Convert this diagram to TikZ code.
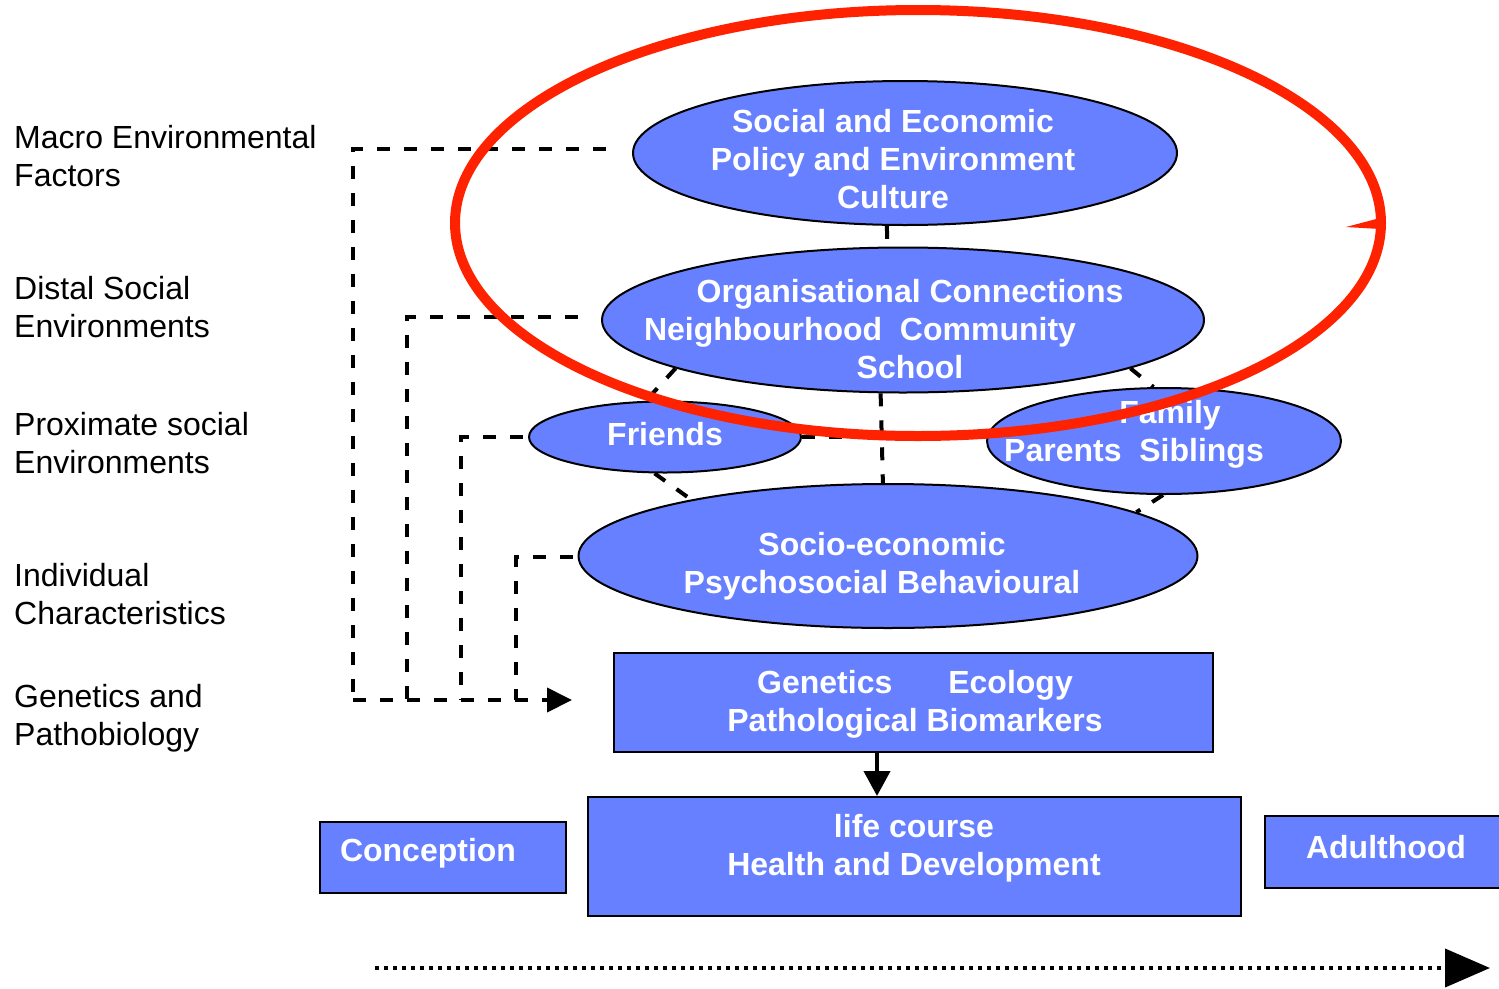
\documentclass[tikz,border=0pt]{standalone}
\usepackage{fontspec}
\setmainfont{Liberation Sans}
\usetikzlibrary{arrows.meta,shapes.geometric}
\definecolor{boxblue}{HTML}{6680FF}
\definecolor{ringred}{HTML}{FF2200}
\begin{document}
\begin{tikzpicture}[x=1pt,y=-1pt,
  txt/.style={font=\fontsize{32}{38}\selectfont, inner sep=0pt, align=left},
  wtxt/.style={font=\bfseries\fontsize{32}{38}\selectfont, text=white, inner sep=0pt, align=center},
  oval/.style={ellipse, draw=black, line width=2pt, fill=boxblue, inner sep=0pt},
  blk/.style={rectangle, draw=black, line width=2pt, fill=boxblue, inner sep=0pt},
  dashline/.style={line width=4pt, dash pattern=on 13pt off 14pt},
  dotline/.style={line width=4pt, dash pattern=on 4pt off 5pt},
]
\useasboundingbox (0,0) rectangle (1499,988);

% left labels
\node[txt, anchor=west] (lmacro) at (14,156) {Macro Environmental\\Factors};
\node[txt, anchor=west] (ldistal) at (14,307) {Distal Social\\Environments};
\node[txt, anchor=west] (lprox) at (14,443) {Proximate social\\Environments};
\node[txt, anchor=west] (lindiv) at (14,594) {Individual\\Characteristics};
\node[txt, anchor=west] (lgen) at (14,718) {Genetics and\\Pathobiology};

% dashed feeders
\coordinate (f1) at (606,149);
\coordinate (f2) at (578,317);
\coordinate (f3) at (523,437);
\coordinate (f4) at (573,557);
\coordinate (b1) at (353,700);
\coordinate (b2) at (407,700);
\coordinate (b3) at (461,700);
\coordinate (b4) at (516,700);
\coordinate (tip) at (572,700);
\draw[dashline] (f1) -| (b1);
\draw[dashline] (f2) -| (b2);
\draw[dashline] (f3) -| (b3);
\draw[dashline] (f4) -| (b4);
\draw[dashline, -{Triangle[length=25pt,width=24pt]}] (b1) -- (tip);

% ellipses
\node[oval, minimum width=544pt, minimum height=144pt] (se) at (905,153) {};
\node[oval, minimum width=602pt, minimum height=145pt] (org) at (903,320) {};
\node[oval, minimum width=272pt, minimum height=71pt] (fr) at (665,437) {};
\node[oval, minimum width=354pt, minimum height=106pt] (fam) at (1164,441) {};
\node[oval, minimum width=619pt, minimum height=144pt] (soc) at (888,556) {};

% short dashed links
\draw[dashline] (se.256) -- (org.102.5);
\draw[dashline] (org.253.7) -- (soc.94.8);
\draw[dashline] (org.192.5) -- (fr.118);
\draw[dashline] (fr.254.5) -- (soc.164.6);
\draw[dashline] (fr.east) -- (fr.east -| fam.west);
\draw[dashline] (org.348.5) -- (fam.101.7);
\draw[dashline] (fam.269) -- (soc.10.2);

% ellipse texts
\node[wtxt] (tse) at (893,159) {Social and Economic\\Policy and Environment\\Culture};
\node[wtxt] (torg) at (910,329) {Organisational Connections\\\mbox{Neighbourhood\ \ Community\hspace{100pt}}\\School};
\node[wtxt] (tfr) at (665,434) {Friends};
\node[wtxt] (tfam) at (1134,434) {\hspace*{72pt}Family\\Parents\ \ Siblings};
\node[wtxt] (tsoc) at (882,566) {Socio-economic\\Psychosocial Behavioural};

% rectangles
\node[blk, minimum width=599pt, minimum height=99pt] (gen) at (913.5,702.5) {};
\node[blk, minimum width=653pt, minimum height=119pt] (life) at (914.5,856.5) {};
\node[blk, minimum width=246pt, minimum height=71pt] (conc) at (443,857.5) {};
\node[blk, minimum width=245pt, minimum height=72pt] (adult) at (1387.5,852) {};

\node[wtxt] (tgen) at (915,704) {Genetics\hspace{56pt}Ecology\\Pathological Biomarkers};
\node[wtxt] (tlife) at (914,848) {life course\\Health and Development};
\node[wtxt] (tconc) at (428,853) {Conception};
\node[wtxt] (tadult) at (1386,847) {Adulthood};

% solid arrow
\draw[line width=4pt, -{Triangle[length=25pt,width=26pt]}] ([xshift=-36.5pt]gen.south) -- ([xshift=-36.5pt]gen.south |- life.north);

% time arrow
\coordinate (tstart) at (375,968);
\coordinate (tend) at (1490,968);
\draw[dotline, -{Triangle[length=45pt,width=38pt]}] (tstart) -- (tend);

% red ring
\node[ellipse, draw=ringred, line width=10pt, minimum width=926pt, minimum height=426pt, inner sep=0pt] (ring) at (918,223) {};
\fill[ringred] (1346,227) -- (1380,218) -- (1380,229) -- cycle;
\end{tikzpicture}
\end{document}
